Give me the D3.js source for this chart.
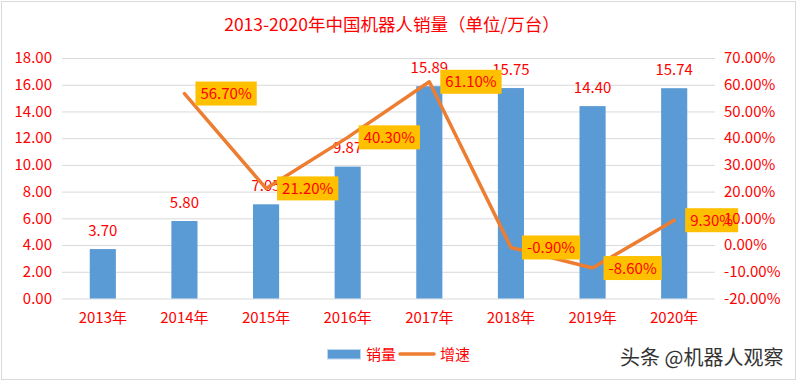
<!DOCTYPE html>
<html><head><meta charset="utf-8">
<script src="https://cdn.jsdelivr.net/npm/d3@7"></script>
<style>
html,body{margin:0;padding:0;background:#fff;}
svg text{font-family:"Noto Sans CJK SC","Microsoft YaHei",sans-serif;}
</style></head>
<body><svg id="c" width="797" height="381"></svg>
<script>
const years = ["2013年","2014年","2015年","2016年","2017年","2018年","2019年","2020年"];
const sales = [3.70, 5.80, 7.05, 9.87, 15.89, 15.75, 14.40, 15.74];
const growth = [null, 56.70, 21.20, 40.30, 61.10, -0.90, -8.60, 9.30];
const leftTicks = [0,2,4,6,8,10,12,14,16,18];
const rightTicks = [-20,-10,0,10,20,30,40,50,60,70];
const title = "2013-2020年中国机器人销量（单位/万台）";
const seriesNames = ["销量","增速"];
const watermark = "头条 @机器人观察";

const RED = "#FF0000", BLUE = "#5B9BD5", ORANGE = "#ED7D31", GOLD = "#FFC000", GRID = "#D9D9D9";
const L = 62, R = 715, T = 58, B = 298.5;
const svg = d3.select("#c");

svg.append("rect").attr("x",1.5).attr("y",1.5).attr("width",794).attr("height",378)
  .attr("fill","#fff").attr("stroke",GRID).attr("stroke-width",1);

const x = d3.scaleBand().domain(years).range([L,R]).paddingInner(0.68).paddingOuter(0.34);
const yL = d3.scaleLinear().domain([0,18]).range([B,T]);
const yR = d3.scaleLinear().domain([-20,70]).range([B,T]);

// title
svg.append("text").attr("x",392).attr("y",31).attr("text-anchor","middle")
  .attr("fill",RED).style("font-size","17.5px").text(title);

// left axis + gridlines
const gl = svg.append("g").attr("transform",`translate(${L},0)`)
  .call(d3.axisLeft(yL).tickValues(leftTicks).tickSize(-(R-L)).tickPadding(10).tickFormat(d=>d.toFixed(2)));
gl.select(".domain").remove();
gl.selectAll("line").attr("stroke",GRID).attr("stroke-width",1);
gl.selectAll("text").attr("fill",RED).style("font-size","15px");

// x axis
const gx = svg.append("g").attr("transform",`translate(0,${B})`)
  .call(d3.axisBottom(x).tickSize(0).tickPadding(14));
gx.select(".domain").remove();
gx.selectAll("text").attr("fill",RED).style("font-size","15px");

// bars
svg.append("g").selectAll("rect").data(sales).join("rect")
  .attr("x",(d,i)=>x(years[i])).attr("width",x.bandwidth())
  .attr("y",d=>yL(d)).attr("height",d=>B-yL(d)).attr("fill",BLUE);

// sales labels
svg.append("g").selectAll("text").data(sales).join("text")
  .attr("x",(d,i)=>x(years[i])+x.bandwidth()/2).attr("y",d=>yL(d)-13.5)
  .attr("text-anchor","middle").attr("fill",RED).style("font-size","15px")
  .text(d=>d.toFixed(2));

// line
const pts = growth.map((g,i)=>({g,i})).filter(p=>p.g!==null);
const cx = i => x(years[i])+x.bandwidth()/2;
svg.append("path").datum(pts)
  .attr("d",d3.line().x(p=>cx(p.i)).y(p=>yR(p.g)))
  .attr("fill","none").attr("stroke",ORANGE).attr("stroke-width",3.5)
  .attr("stroke-linejoin","round").attr("stroke-linecap","round");

// growth labels
const gLab = svg.append("g").selectAll("g").data(pts).join("g")
  .attr("transform",p=>`translate(${cx(p.i)+11},${yR(p.g)})`);
gLab.append("text").attr("x",5).attr("y",5.5).attr("fill",RED).style("font-size","15px")
  .text(p=>p.g.toFixed(2)+"%");
gLab.each(function(){
  const g = d3.select(this);
  const w = g.select("text").node().getComputedTextLength();
  g.insert("rect","text").attr("x",0).attr("y",-12).attr("width",w+10).attr("height",24).attr("fill",GOLD);
});

// right axis (on top)
const gr = svg.append("g").attr("transform",`translate(${R},0)`)
  .call(d3.axisRight(yR).tickValues(rightTicks).tickSize(0).tickPadding(9).tickFormat(d=>d.toFixed(2)+"%"));
gr.select(".domain").remove();
gr.selectAll("text").attr("fill",RED).style("font-size","15px");

// legend
const lg = svg.append("g");
lg.append("rect").attr("x",327.5).attr("y",349.5).attr("width",33).attr("height",9.5)
  .attr("fill",BLUE).attr("stroke","#BDD7EE").attr("stroke-width",1);
lg.append("text").attr("x",366).attr("y",359.5).attr("fill",RED).style("font-size","15px").text(seriesNames[0]);
lg.append("line").attr("x1",400).attr("x2",434).attr("y1",354).attr("y2",354)
  .attr("stroke",ORANGE).attr("stroke-width",3.5).attr("stroke-linecap","round");
lg.append("text").attr("x",440).attr("y",359.5).attr("fill",RED).style("font-size","15px").text(seriesNames[1]);

// watermark
svg.append("text").attr("x",620).attr("y",364.5).attr("fill","#333")
  .attr("stroke","#fff").attr("stroke-width",2.5).attr("paint-order","stroke")
  .style("font-size","20px").text(watermark);
</script></body></html>
